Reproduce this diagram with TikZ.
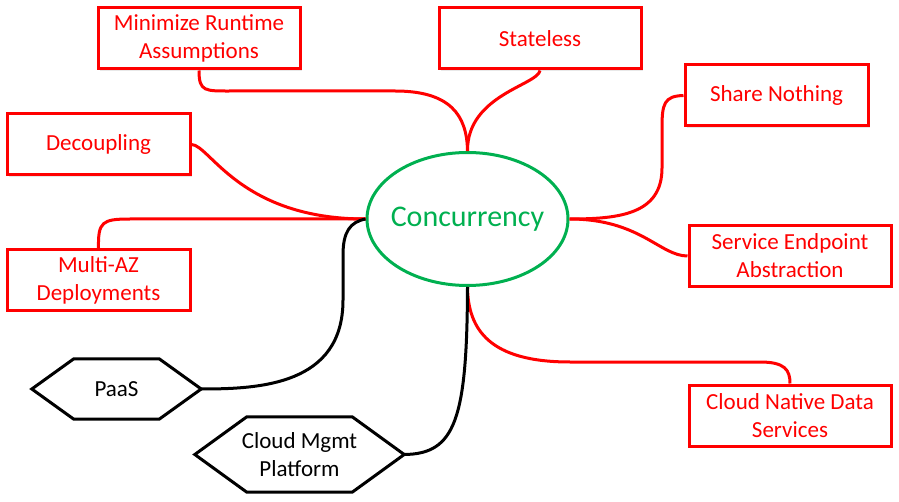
\documentclass[tikz,border=0pt]{standalone}
\usepackage{fontspec}
\setmainfont{Carlito}
\usetikzlibrary{shapes.geometric,shadows,calc}
\definecolor{bred}{RGB}{255,0,0}
\definecolor{bgreen}{RGB}{0,176,80}
\begin{document}
\begin{tikzpicture}[x=1pt,y=-1pt,
  rbox/.style={draw=bred, line width=3pt, text=bred, fill=white, inner sep=0pt,
    align=center, minimum width=202pt, minimum height=61pt,
    font=\fontsize{23}{28}\selectfont,
    drop shadow={opacity=0.18, shadow xshift=2pt, shadow yshift=-2pt}},
  hexbox/.style={inner sep=0pt, align=center, text=black,
    font=\fontsize{23}{28}\selectfont},
  hexline/.style={draw=black, line width=3pt, line join=miter, fill=white},
  rlink/.style={draw=bred, line width=3pt},
  klink/.style={draw=black, line width=3pt},
  center/.style={ellipse, draw=bgreen, line width=3pt, text=bgreen, fill=white,
    minimum width=201pt, minimum height=133pt, inner xsep=-6pt, inner ysep=0pt,
    font=\fontsize{30}{36}\selectfont}]
\useasboundingbox (0,0) rectangle (899,502);

% center
\node[center] (conc) at (467.5,219) {Concurrency};

% red boxes
\node[rbox] (mra) at (199,38.5) {Minimize Runtime\\Assumptions};
\node[rbox] (sl)  at (540,38.5) {Stateless};
\node[rbox, minimum width=183pt] (sn)  at (776.5,95.5) {Share Nothing};
\node[rbox, minimum width=183pt] (dec) at (98.5,144.5) {Decoupling};
\node[rbox] (sea) at (790,256) {Service Endpoint\\Abstraction};
\node[rbox, minimum width=183pt] (maz) at (98.5,280) {Multi-AZ\\Deployments};
\node[rbox] (cnd) at (790,415.5) {Cloud Native Data\\Services};

% hexagons
\node[hexbox, minimum width=169pt, minimum height=60pt] (paas) at (116.5,389) {PaaS};
\draw[hexline] (paas.west) -- ([xshift=42pt]paas.north west) -- ([xshift=-42pt]paas.north east)
  -- (paas.east) -- ([xshift=-42pt]paas.south east) -- ([xshift=42pt]paas.south west) -- cycle;
\node[hexbox] at (paas) {PaaS};

\node[hexbox, minimum width=209pt, minimum height=75pt] (cmp) at (299.5,454.5) {Cloud Mgmt\\Platform};
\draw[hexline] (cmp.west) -- ([xshift=52pt]cmp.north west) -- ([xshift=-52pt]cmp.north east)
  -- (cmp.east) -- ([xshift=-52pt]cmp.south east) -- ([xshift=52pt]cmp.south west) -- cycle;
\node[hexbox] at (cmp) {Cloud Mgmt\\Platform};

% connectors
\draw[rlink] (mra.south) .. controls (199,92) and (205,91) .. (232,91) -- (395,91)
  .. controls (450,91) and (467,115) .. (conc.north);
\draw[rlink] (sl.south) .. controls (538,85) and (467,95) .. (conc.north);
\draw[rlink] (sn.west) .. controls (664,96) and (662,104) .. (662,128) -- (662,168)
  .. controls (662,214) and (620,219) .. (conc.east);
\draw[rlink] (conc.east) .. controls (640,219) and (660,256) .. (sea.west);
\draw[rlink] (dec.east) .. controls (210,145) and (240,219) .. (conc.west);
\draw[rlink] (maz.north) .. controls (98,222) and (102,219) .. (130,219) -- (conc.west);
\draw[rlink] (conc.south) .. controls (468,330) and (490,362) .. (570,362) -- (760,362)
  .. controls (785,362) and (790,370) .. (cnd.north);
\draw[klink] (conc.west) .. controls (350,222) and (343,232) .. (343,255) -- (343,300)
  .. controls (343,385) and (260,389) .. (paas.east);
\draw[klink] (conc.south) .. controls (467,420) and (455,454) .. (cmp.east);
\end{tikzpicture}
\end{document}
